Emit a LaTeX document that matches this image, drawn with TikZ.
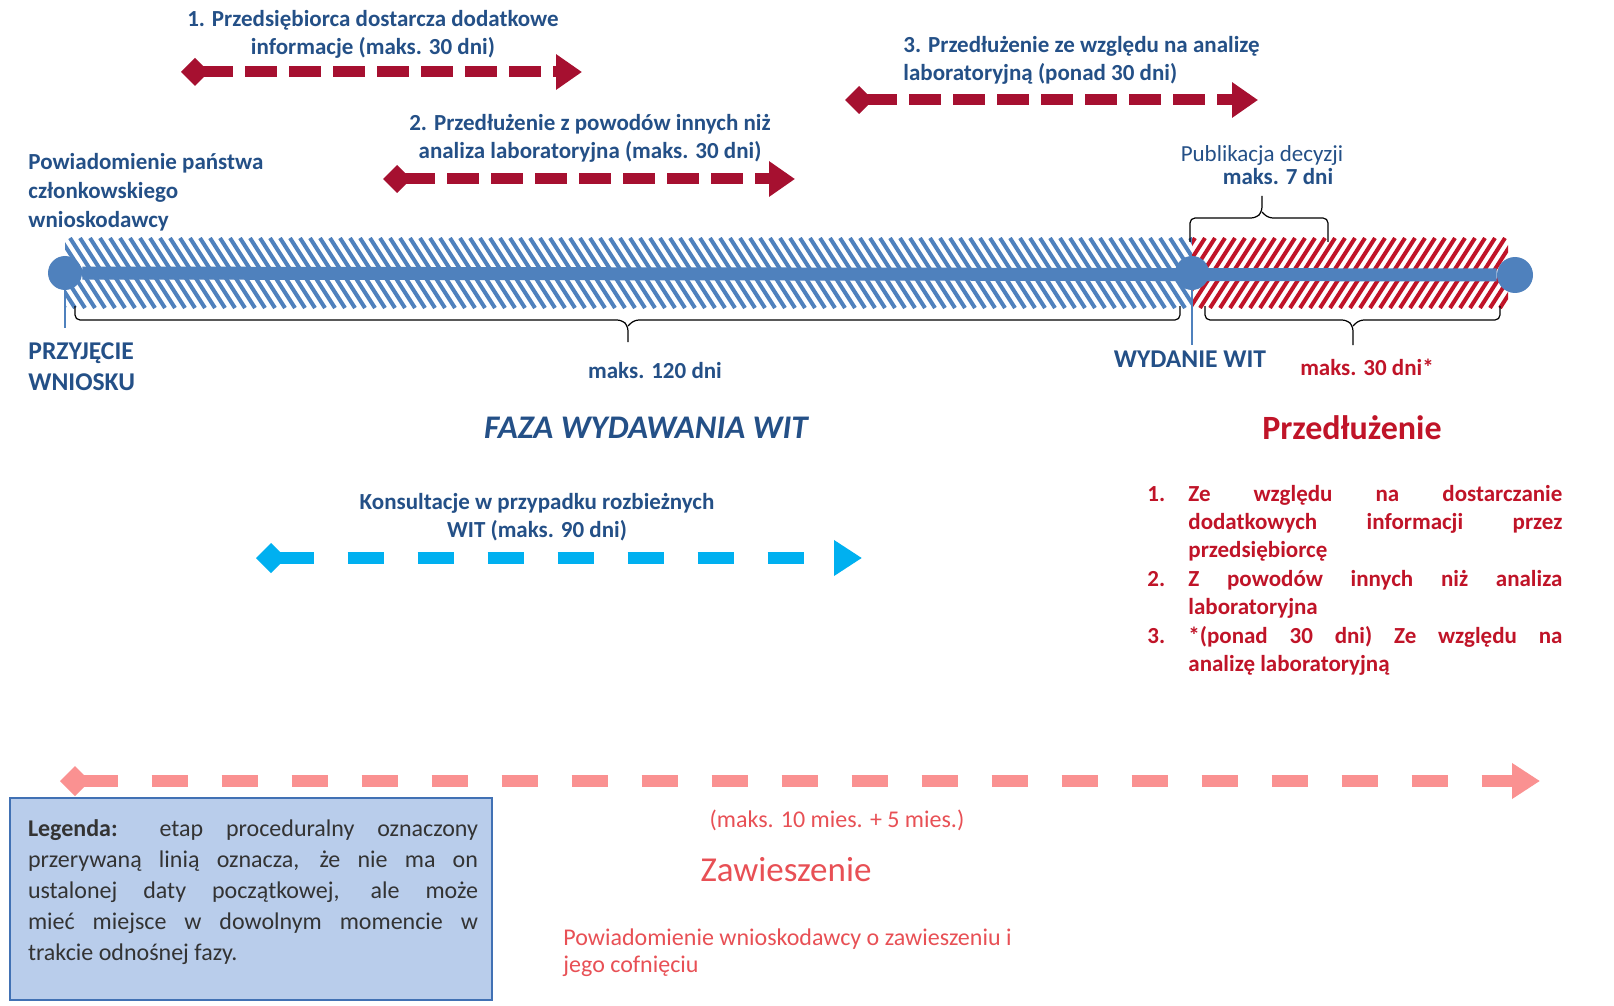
\documentclass[tikz,border=0pt]{standalone}
\usepackage{fontspec}
\setmainfont{Carlito}
\usetikzlibrary{arrows.meta,positioning}

\definecolor{txtblue}{RGB}{36,80,135}
\definecolor{lineblue}{RGB}{79,129,189}
\definecolor{darkred}{RGB}{166,16,48}
\definecolor{txtred}{RGB}{192,20,40}
\definecolor{cyanarr}{RGB}{0,176,240}
\definecolor{pinkarr}{RGB}{250,145,145}
\definecolor{pinktxt}{RGB}{232,80,85}
\definecolor{legfill}{RGB}{185,205,235}
\definecolor{legdraw}{RGB}{65,113,180}

\hyphenpenalty=10000
\exhyphenpenalty=10000

\tikzset{
  redarrow/.style={darkred, line width=5.5pt, dash pattern=on 16pt off 6pt,
    {Turned Square[length=14pt,width=14pt]}-{Triangle[length=13pt,width=17pt]}},
  lightarrow/.style={line width=6pt, dash pattern=on 18pt off 17pt,
    {Turned Square[length=15pt,width=15pt]}-{Triangle[length=14pt,width=17pt]}},
  lbl/.style={txtblue, font=\fontsize{11.5}{14}\selectfont\bfseries, align=center, inner sep=0pt},
  bigblue/.style={txtblue, font=\fontsize{12.8}{15.5}\selectfont\bfseries, inner sep=0pt},
  dot/.style={circle, fill=lineblue, inner sep=0pt, minimum size=17pt},
  tick/.style={lineblue, line width=1.2pt},
  brc/.style={black, line width=0.6pt, rounded corners=2.5pt},
  listtxt/.style={txtred, font=\fontsize{11.5}{14.2}\selectfont\bfseries, text width=187pt, align=justify, inner sep=0pt},
  listnum/.style={txtred, font=\fontsize{11.5}{14.2}\selectfont\bfseries, inner sep=0pt},
  legbox/.style={draw=legdraw, line width=1.2pt, fill=legfill, minimum width=241pt, minimum height=101pt, inner sep=0pt},
  legtext/.style={text=black!80, font=\fontsize{12}{15.5}\selectfont, text width=225pt, inner sep=0pt, align=justify},
}

\begin{document}
\begin{tikzpicture}[x=0.5pt,y=-0.5pt]
\fill[white] (0,0) rectangle (1614,1006);
\useasboundingbox (0,0) rectangle (1614,1006);

% hatched bands
\begin{scope}
  \clip (65,238) rectangle (1192,308);
  \foreach \x in {20,30,...,1200} \draw[lineblue, line width=2pt] (\x,238) -- ++(45,70);
\end{scope}
\begin{scope}
  \clip (1192,238) rectangle (1508,308);
  \foreach \x in {1150,1160,...,1520} \draw[txtred, line width=2pt] (\x,308) -- ++(45,-70);
\end{scope}

% timeline
\node[dot] (przyjecie) at (65,273) {};
\node[dot] (wydanie) at (1192,273) {};
\node[dot, minimum size=18pt] (koniec) at (1515,275) {};
\draw[lineblue, line width=6.5pt] (przyjecie) -- (koniec);
\coordinate (przyjtick) at (65,328);
\coordinate (wydtick) at (1192,345);
\draw[tick] (przyjecie.center) -- (przyjtick);
\draw[tick] (wydanie.south) -- (wydtick);

% braces
\draw[brc] (75,306) |- (622,320) -- (628,326) -- (628,342);
\draw[brc] (628,326) -- (634,320) -| (1180,306);
\draw[brc] (1205,306) |- (1347,320) -- (1353,326) -- (1353,345);
\draw[brc] (1353,326) -- (1359,320) -| (1500,306);
\draw[brc] (1190,242) |- (1256,218) -- (1262,212) -- (1262,196);
\draw[brc] (1262,212) -- (1268,218) -| (1328,242);

% timeline labels
\node[lbl, font=\fontsize{11.5}{14.5}\selectfont\bfseries, anchor=west, align=left] (powiad) at (28,192)
  {Powiadomienie państwa\\członkowskiego\\wnioskodawcy};
\node[bigblue, anchor=west, align=left] (przyjlbl) at (28,367) {PRZYJĘCIE\\WNIOSKU};
\node[bigblue] (wydlbl) at (1190,359) {WYDANIE WIT};
\node[lbl] (maks120) at (655,371) {maks. 120 dni};
\node[lbl, txtred] (maks30) at (1367,367) {maks. 30 dni*};
\node[lbl, font=\fontsize{11.5}{14}\selectfont] (publ) at (1262,155) {Publikacja decyzji};
\node[lbl] (publ7) at (1278,177) {maks. 7 dni};
\node[txtblue, font=\fontsize{16.5}{19}\selectfont\bfseries\itshape] (faza) at (646,428) {FAZA WYDAWANIA WIT};
\node[txtred, font=\fontsize{17}{20}\selectfont\bfseries] (przedl) at (1352,428) {Przedłużenie};

% extension arrows
\coordinate (a1l) at (181,72);
\coordinate (a1r) at (582,72);
\draw[redarrow] (a1l) -- (a1r);
\node[lbl] (a1lbl) at (373,34) {1. Przedsiębiorca dostarcza dodatkowe\\informacje (maks. 30 dni)};
\coordinate (a2l) at (383,179);
\coordinate (a2r) at (795,179);
\draw[redarrow] (a2l) -- (a2r);
\node[lbl] (a2lbl) at (590,138) {2. Przedłużenie z powodów innych niż\\analiza laboratoryjna (maks. 30 dni)};
\coordinate (a3l) at (845,100);
\coordinate (a3r) at (1258,100);
\draw[redarrow] (a3l) -- (a3r);
\node[lbl, anchor=west, align=left] (a3lbl) at (903,60) {3. Przedłużenie ze względu na analizę\\laboratoryjną (ponad 30 dni)};

% consultations
\coordinate (kl) at (256,558);
\coordinate (kr) at (862,558);
\draw[lightarrow, cyanarr] (kl) -- (kr);
\node[lbl] (konslbl) at (537,517) {Konsultacje w przypadku rozbieżnych\\WIT (maks. 90 dni)};

% extension reasons
\node[listnum, anchor=base west] (n1) at (1147,501) {1.};
\node[listtxt, anchor=base west] (r1) at (1188,501) {Ze względu na dostarczanie\linebreak dodatkowych informacji przez\linebreak przedsiębiorcę};
\node[listnum, anchor=base west] (n2) at (1147,586) {2.};
\node[listtxt, anchor=base west] (r2) at (1188,586) {Z powodów innych niż analiza\linebreak laboratoryjna};
\node[listnum, anchor=base west] (n3) at (1147,643) {3.};
\node[listtxt, anchor=base west] (r3) at (1188,643) {*(ponad 30 dni) Ze względu na\linebreak analizę laboratoryjną};

% suspension
\coordinate (zl) at (60,781);
\coordinate (zr) at (1540,781);
\draw[lightarrow, pinkarr] (zl) -- (zr);
\node[pinktxt, font=\fontsize{12}{14}\selectfont, inner sep=0pt] (zmaks) at (837,820) {(maks. 10 mies. + 5 mies.)};
\node[pinktxt, font=\fontsize{17.5}{20}\selectfont, inner sep=0pt] (zaw) at (786,870) {Zawieszenie};
\node[pinktxt, font=\fontsize{12}{13.5}\selectfont, inner sep=0pt, anchor=west, align=left] (zpow) at (563,953)
  {Powiadomienie wnioskodawcy o zawieszeniu i\\jego cofnięciu};

% legend
\node[legbox] (legenda) at (251,899) {};
\node[legtext] (legtxt) at (253,892)
  {\textbf{Legenda:} etap proceduralny oznaczony\linebreak przerywaną linią oznacza, że nie ma on\linebreak ustalonej daty początkowej, ale może\linebreak mieć miejsce w dowolnym momencie w\linebreak trakcie odnośnej fazy.};
\end{tikzpicture}
\end{document}
